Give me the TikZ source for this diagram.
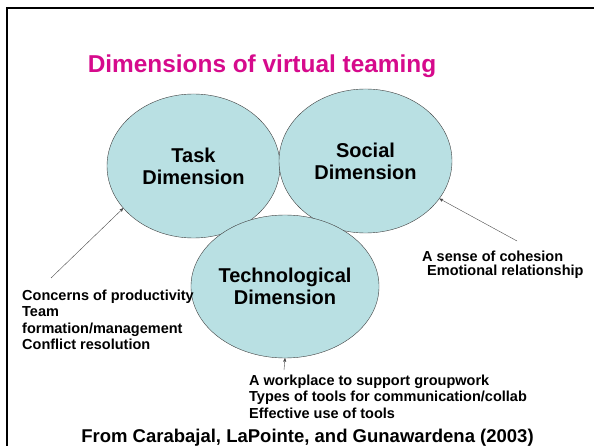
\documentclass[tikz,border=0pt]{standalone}
\usepackage{fontspec}
\setmainfont{Liberation Sans}
\usetikzlibrary{arrows}
\usetikzlibrary{shapes.geometric}
\usepackage{xcolor}
\definecolor{titlemag}{RGB}{214,10,140}
\definecolor{dimfill}{RGB}{185,224,227}

\begin{document}
\begin{tikzpicture}[x=1pt,y=-1pt,
 dim/.style={ellipse, draw=black!75, thin, fill=dimfill, inner sep=0, minimum width=173pt, minimum height=144pt, align=center, font=\fontsize{20}{22}\selectfont\bfseries},
 note/.style={align=left, inner sep=0, anchor=base west, font=\fontsize{14.5}{16.5}\selectfont\bfseries},
 pointer/.style={black!70, thin, ->, >=stealth'}]
\useasboundingbox (0,0) rectangle (594,446);
\fill[white] (0,0) rectangle (594,446);
\draw[line width=2pt] (7,448) -- (7,8) -- (596,8);
\node[anchor=base, text=titlemag, font=\fontsize{24.4}{28}\selectfont\bfseries] (title) at (262,73) {Dimensions of virtual teaming};
% the three dimensions
\node[dim] (task) at (193.5,166) {Task\\Dimension};
\node[dim] (social) at (365.5,161) {Social\\Dimension};
\node[dim, minimum width=180pt, minimum height=143pt] (tech) at (285,286.5) {Technological\\Dimension};
% notes (anchored at the baseline of their last line)
\node[note] (tasknote) at (22,349.5) {Concerns of productivity\\Team\\formation/management\\Conflict resolution};
\node[note, font=\fontsize{14.5}{14.5}\selectfont\bfseries] (socialnote) at (422,276) {A sense of cohesion\\\hspace*{5pt}Emotional relationship};
\node[note] (technote) at (249,418) {A workplace to support groupwork\\Types of tools for communication/collab\\Effective use of tools};
\coordinate (tasktail) at (51,278);
\coordinate (socialtail) at (517,241);
\coordinate (techtail) at (284,370);
\draw[pointer] (tasktail) -- (task.211);
\draw[pointer] (socialtail) -- (social.333);
\draw[pointer] (techtail) -- (tech.south);
\node[anchor=base, font=\fontsize{18.5}{20}\selectfont\bfseries] (credit) at (307.5,442) {From Carabajal, LaPointe, and Gunawardena (2003)};
\end{tikzpicture}
\end{document}
